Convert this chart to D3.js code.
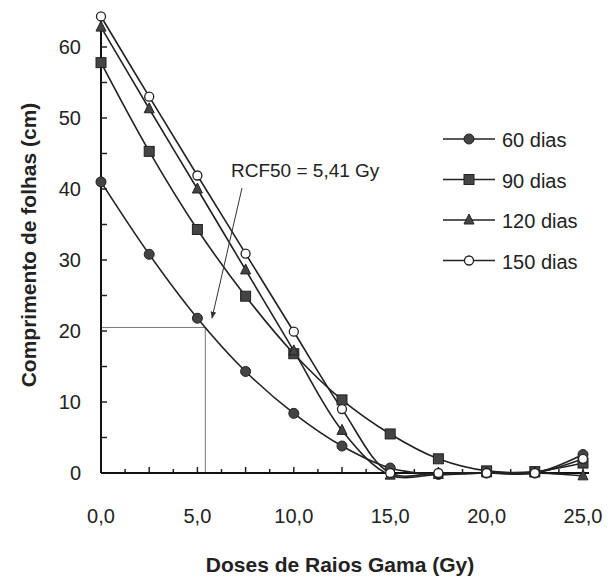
<!DOCTYPE html>
<html>
<head>
<meta charset="utf-8">
<script src="https://cdn.jsdelivr.net/npm/d3@7"></script>
<style>
  body { margin: 0; background: #fff; }
  text { font-family: "Liberation Sans", Arial, sans-serif; fill: #222; }
</style>
</head>
<body>
<div id="chart"></div>
<script>
// doses (Gy)
var doses = [0, 2.5, 5, 7.5, 10, 12.5, 15, 17.5, 20, 22.5, 25];

var dias60  = [41, 30.8, 21.8, 14.3, 8.4, 3.8, 0.7, -0.2, 0, 0, 2.6];
var dias90  = [57.8, 45.3, 34.3, 24.9, 16.8, 10.3, 5.5, 2.0, 0.3, 0.2, 1.4];
var dias120 = [62.8, 51.3, 40.0, 28.6, 17.2, 6.0, -0.3, -0.2, 0, 0, -0.4];
var dias150 = [64.3, 53.0, 41.9, 30.9, 19.9, 9.0, 0, 0, 0, 0, 2.0];

var seriesNames = ['60 dias', '90 dias', '120 dias', '150 dias'];
var seriesShapes = ['circle', 'square', 'triangle', 'open'];

var xTickLabels = ['0,0', '5,0', '10,0', '15,0', '20,0', '25,0'];
var yTickLabels = ['0', '10', '20', '30', '40', '50', '60'];

var rcf50 = 5.41;
var rcf50Value = 20.5;
var rcfLabel = 'RCF50 = 5,41 Gy';

var width = 608,
    height = 577;

var series = [dias60, dias90, dias120, dias150];

var x = d3.scaleLinear().domain([0, 25]).range([101, 583]);
var y = d3.scaleLinear().domain([0, 65]).range([473, 11.5]);

var svg = d3.select('#chart')
    .append('svg')
    .attr('width', width)
    .attr('height', height);

// guide lines for RCF50
svg.append('path')
    .attr('d', 'M' + x(0) + ',' + y(rcf50Value) + 'H' + x(rcf50) + 'V' + y(0))
    .attr('fill', 'none')
    .attr('stroke', '#777')
    .attr('stroke-width', 1);

// axes
svg.append('line')
    .attr('x1', x(0)).attr('x2', x(25) + 6)
    .attr('y1', y(0)).attr('y2', y(0))
    .attr('stroke', '#111').attr('stroke-width', 2);

svg.append('line')
    .attr('x1', x(0)).attr('x2', x(0))
    .attr('y1', y(0)).attr('y2', y(64.5))
    .attr('stroke', '#111').attr('stroke-width', 2);

// x ticks, inside, every 1.25 Gy
svg.selectAll('.xtick')
    .data(d3.range(1, 21))
    .enter()
    .append('line')
    .attr('class', 'xtick')
    .attr('x1', d => x(d * 1.25)).attr('x2', d => x(d * 1.25))
    .attr('y1', y(0))
    .attr('y2', d => y(0) - (d % 2 == 0 ? 6 : 4))
    .attr('stroke', '#222').attr('stroke-width', 1.5);

// y ticks, inside, every 5
svg.selectAll('.ytick')
    .data(d3.range(5, 65, 5))
    .enter()
    .append('line')
    .attr('class', 'ytick')
    .attr('x1', x(0)).attr('x2', x(0) + 6)
    .attr('y1', d => y(d)).attr('y2', d => y(d))
    .attr('stroke', '#222').attr('stroke-width', 1.5);

svg.selectAll('.xlabel')
    .data(xTickLabels)
    .enter()
    .append('text')
    .attr('x', (d, i) => x(i * 5))
    .attr('y', 523)
    .attr('text-anchor', 'middle')
    .style('font-size', '20px')
    .text(d => d);

svg.selectAll('.ylabel')
    .data(yTickLabels)
    .enter()
    .append('text')
    .attr('x', 81)
    .attr('y', (d, i) => y(i * 10) + 7)
    .attr('text-anchor', 'end')
    .style('font-size', '20px')
    .text(d => d);

svg.append('text')
    .attr('x', 340)
    .attr('y', 572)
    .attr('text-anchor', 'middle')
    .style('font-size', '21px')
    .style('font-weight', 'bold')
    .text('Doses de Raios Gama (Gy)');

svg.append('text')
    .attr('transform', 'translate(36,245) rotate(-90)')
    .attr('text-anchor', 'middle')
    .style('font-size', '21px')
    .style('font-weight', 'bold')
    .text('Comprimento de folhas (cm)');

// curves
var line = d3.line()
    .x((d, i) => x(doses[i]))
    .y(d => y(d))
    .curve(d3.curveCatmullRom.alpha(0.5));

svg.selectAll('.serie')
    .data(series)
    .enter()
    .append('path')
    .attr('class', 'serie')
    .attr('d', d => line(d))
    .attr('fill', 'none')
    .attr('stroke', '#222')
    .attr('stroke-width', 1.6);

function drawMarker(g, shape, cx, cy) {
    if (shape == 'circle') {
        g.append('circle').attr('cx', cx).attr('cy', cy).attr('r', 5)
            .attr('fill', '#444').attr('stroke', '#222');
    } else if (shape == 'square') {
        g.append('rect').attr('x', cx - 5).attr('y', cy - 5)
            .attr('width', 10).attr('height', 10)
            .attr('fill', '#444').attr('stroke', '#222');
    } else if (shape == 'triangle') {
        g.append('path')
            .attr('d', 'M' + cx + ',' + (cy - 6) + 'L' + (cx + 5) + ',' + (cy + 4) + 'L' + (cx - 5) + ',' + (cy + 4) + 'Z')
            .attr('fill', '#444').attr('stroke', '#222');
    } else {
        g.append('circle').attr('cx', cx).attr('cy', cy).attr('r', 4.5)
            .attr('fill', '#fff').attr('stroke', '#222').attr('stroke-width', 1.3);
    }
}

var markers = svg.append('g');
series.forEach(function (s, k) {
    s.forEach(function (v, i) {
        drawMarker(markers, seriesShapes[k], x(doses[i]), y(v));
    });
});

// annotation
svg.append('defs').append('marker')
    .attr('id', 'arrow')
    .attr('viewBox', '0 0 10 10')
    .attr('refX', 9).attr('refY', 5)
    .attr('markerWidth', 7).attr('markerHeight', 7)
    .attr('orient', 'auto')
    .append('path')
    .attr('d', 'M0,1L10,5L0,9Z')
    .attr('fill', '#333');

svg.append('line')
    .attr('x1', 242).attr('y1', 188)
    .attr('x2', 212).attr('y2', 318)
    .attr('stroke', '#333').attr('stroke-width', 1)
    .attr('marker-end', 'url(#arrow)');

svg.append('text')
    .attr('x', 231)
    .attr('y', 177)
    .style('font-size', '19px')
    .text(rcfLabel);

// legend
var legend = svg.selectAll('.legend')
    .data(seriesNames)
    .enter()
    .append('g')
    .attr('class', 'legend')
    .attr('transform', (d, i) => 'translate(0,' + (139 + i * 40.5) + ')');

legend.append('line')
    .attr('x1', 443).attr('x2', 495)
    .attr('y1', 0).attr('y2', 0)
    .attr('stroke', '#222').attr('stroke-width', 1.6);

legend.each(function (d, i) {
    drawMarker(d3.select(this), seriesShapes[i], 469, 0);
});

legend.append('text')
    .attr('x', 502)
    .attr('y', 8)
    .style('font-size', '20px')
    .text(d => d);
</script>
</body>
</html>
